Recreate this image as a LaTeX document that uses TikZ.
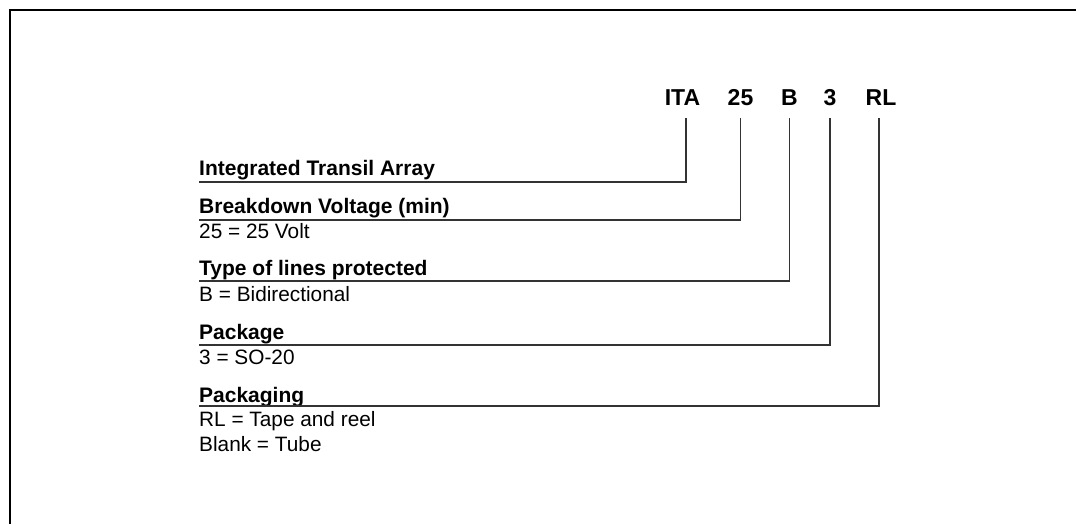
\documentclass[tikz,border=0pt]{standalone}
\usepackage{fontspec}
\setmainfont{Liberation Sans}
\begin{document}
\begin{tikzpicture}[x=1pt,y=-1pt,
    code/.style={font=\fontsize{23}{27}\selectfont\bfseries, inner xsep=0pt, inner ysep=13pt, text depth=0pt, anchor=base},
    field/.style={font=\fontsize{21}{25}\selectfont\bfseries, inner sep=0pt, anchor=base west},
    value/.style={font=\fontsize{20.8}{25}\selectfont, inner sep=0pt, anchor=base west},
    lead/.style={draw=black!80, line width=1.3pt}]
    \useasboundingbox (0,0) rectangle (1076,523);
    % frame
    \draw[line width=2pt] (10,530) -- (10,10) -- (1080,10);
    % codes
    \node[code] (ita) at (682.5,105) {ITA};
    \node[code] (volt) at (740.5,105) {25};
    \node[code] (lines) at (789.5,105) {B};
    \node[code] (pkg) at (830,105) {3};
    \node[code] (reel) at (881,105) {RL};
    % fields
    \node[field] (tita) at (199,175.5) {Integrated Transil Array};
    \node[field] (tvolt) at (199,213.5) {Breakdown Voltage (min)};
    \node[value] (vvolt) at (199,238) {25 = 25 Volt};
    \node[field] (tlines) at (199,275.5) {Type of lines protected};
    \node[value] (vlines) at (199,301) {B = Bidirectional};
    \node[field] (tpkg) at (199,339) {Package};
    \node[value] (vpkg) at (199,364) {3 = SO-20};
    \node[field] (treel) at (199,402.5) {Packaging};
    \node[value] (vreel) at (199,426.5) {RL = Tape and reel};
    \node[value] (vtube) at (199,451) {Blank = Tube};
    % underlines
    \coordinate (uita) at (199,182);
    \coordinate (uvolt) at (199,220);
    \coordinate (ulines) at (199,281);
    \coordinate (upkg) at (199,345);
    \coordinate (ureel) at (199,406);
    % leads
    \draw[lead] ([xshift=3.5pt]ita.south) |- (uita);
    \draw[lead] (volt) |- (uvolt);
    \draw[lead] (lines) |- (ulines);
    \draw[lead] (pkg) |- (upkg);
    \draw[lead] ([xshift=-2pt]reel.south) |- (ureel);
\end{tikzpicture}
\end{document}
